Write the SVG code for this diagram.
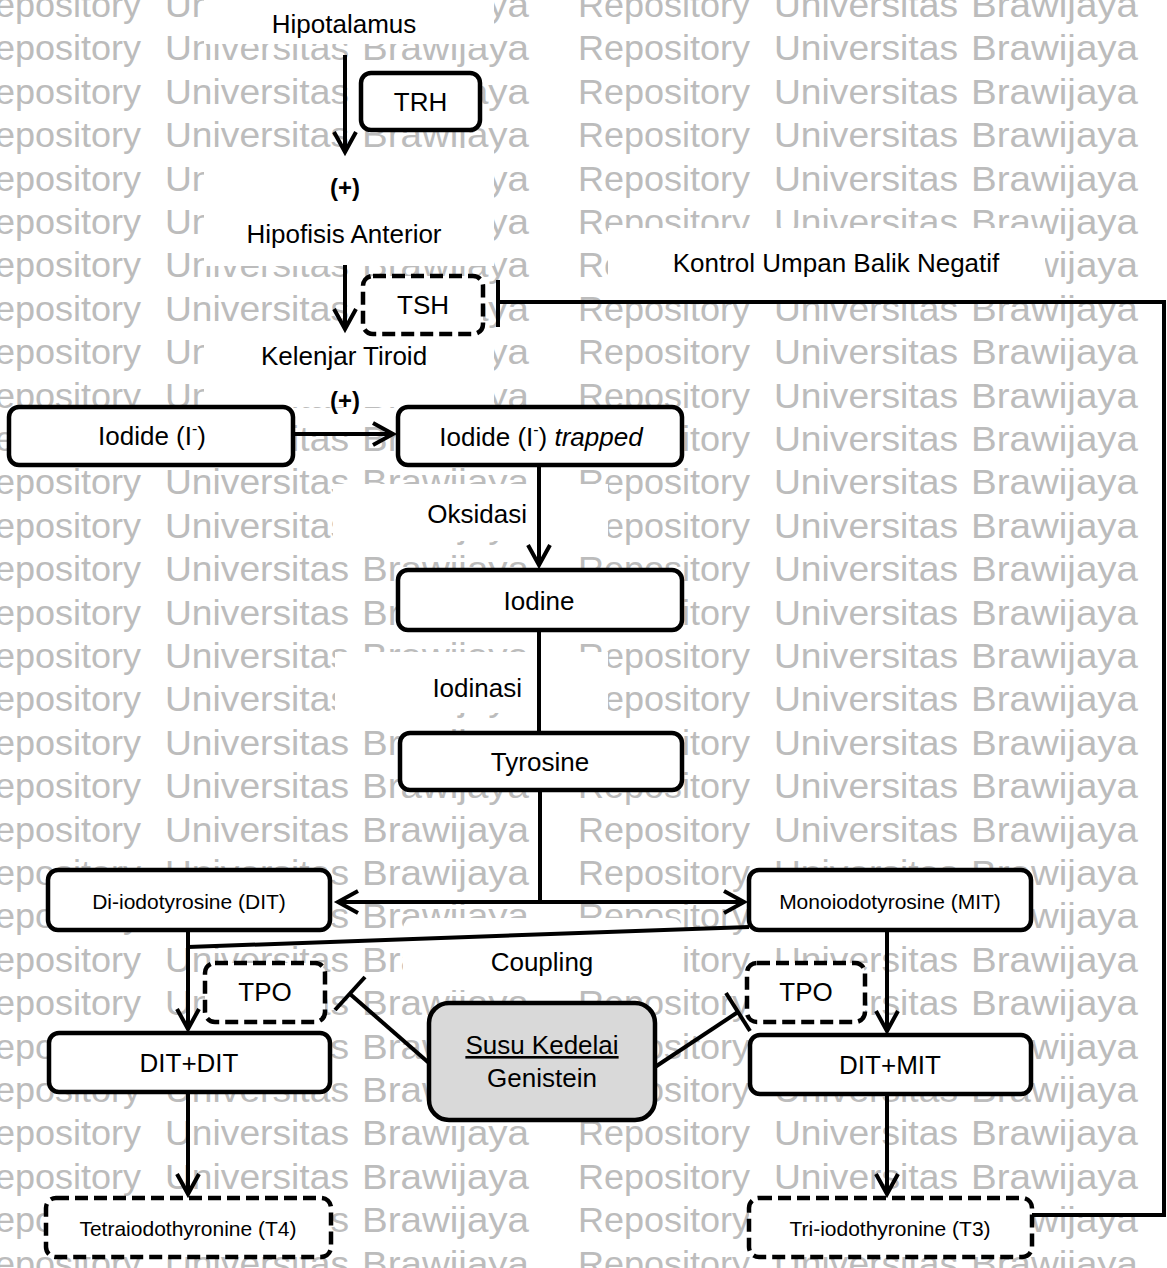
<svg xmlns="http://www.w3.org/2000/svg" xmlns:xlink="http://www.w3.org/1999/xlink" width="1167" height="1268" viewBox="0 0 1167 1268">
  <style>
    text { font-family: "Liberation Sans", Arial, sans-serif; fill: #000; }
    .wm text { font-size: 35px; fill: #bcbcbc; }
    .lbl { font-size: 26px; text-anchor: middle; }
    .sm { font-size: 21px; text-anchor: middle; }
    .plus { font-size: 24px; font-weight: bold; text-anchor: middle; }
    .box { fill: #fff; stroke: #000; stroke-width: 4.5; }
    .dash { fill: #fff; stroke: #000; stroke-width: 4.5; stroke-dasharray: 13 6; }
    .soy { fill: #d9d9d9; stroke: #000; stroke-width: 4.5; }
    .cover { fill: #fff; }
    .ln { fill: none; stroke: #000; stroke-width: 4; }
    .arr { fill: none; stroke: #000; stroke-width: 4; marker-end: url(#head); }
  </style>
  <defs>
    <marker id="head" markerUnits="userSpaceOnUse" orient="auto" overflow="visible" markerWidth="1" markerHeight="1" refX="0" refY="0">
      <path d="M-20,-11 L0,0 L-20,11" fill="none" stroke="#000" stroke-width="4"/>
    </marker>
    <!-- one line of the background watermark, baseline at y=0 -->
    <g id="wmrow" class="wm">
      <text x="-31" textLength="172" lengthAdjust="spacingAndGlyphs">Repository</text>
      <text x="165" textLength="184" lengthAdjust="spacingAndGlyphs">Universitas</text>
      <text x="362" textLength="167" lengthAdjust="spacingAndGlyphs">Brawijaya</text>
      <text x="578" textLength="172" lengthAdjust="spacingAndGlyphs">Repository</text>
      <text x="774" textLength="184" lengthAdjust="spacingAndGlyphs">Universitas</text>
      <text x="971" textLength="167" lengthAdjust="spacingAndGlyphs">Brawijaya</text>
    </g>
  </defs>

  <rect width="1167" height="1268" fill="#fff"/>

  <!-- watermark rows -->
  <g id="watermark">
    <use href="#wmrow" y="17"/>
    <use href="#wmrow" y="60.4"/>
    <use href="#wmrow" y="103.8"/>
    <use href="#wmrow" y="147.2"/>
    <use href="#wmrow" y="190.6"/>
    <use href="#wmrow" y="234"/>
    <use href="#wmrow" y="277.4"/>
    <use href="#wmrow" y="320.8"/>
    <use href="#wmrow" y="364.2"/>
    <use href="#wmrow" y="407.6"/>
    <use href="#wmrow" y="451"/>
    <use href="#wmrow" y="494.4"/>
    <use href="#wmrow" y="537.8"/>
    <use href="#wmrow" y="581.2"/>
    <use href="#wmrow" y="624.6"/>
    <use href="#wmrow" y="668"/>
    <use href="#wmrow" y="711.4"/>
    <use href="#wmrow" y="754.8"/>
    <use href="#wmrow" y="798.2"/>
    <use href="#wmrow" y="841.6"/>
    <use href="#wmrow" y="885"/>
    <use href="#wmrow" y="928.4"/>
    <use href="#wmrow" y="971.8"/>
    <use href="#wmrow" y="1015.2"/>
    <use href="#wmrow" y="1058.6"/>
    <use href="#wmrow" y="1102"/>
    <use href="#wmrow" y="1145.4"/>
    <use href="#wmrow" y="1188.8"/>
    <use href="#wmrow" y="1232.2"/>
    <use href="#wmrow" y="1275.6"/>
  </g>

  <!-- white text frames behind the free labels -->
  <g id="label-frames">
    <rect class="cover" x="204" y="0" width="290" height="44"/>
    <rect class="cover" x="204" y="148" width="290" height="118"/>
    <rect class="cover" x="204" y="332" width="290" height="75"/>
    <rect class="cover" x="608" y="228" width="437" height="72"/>
    <rect class="cover" x="333" y="484" width="275" height="57"/>
    <rect class="cover" x="335" y="652" width="273" height="61"/>
    <rect class="cover" x="403" y="918" width="279" height="72" rx="10"/>
  </g>

  <!-- connectors -->
  <g id="connectors">
    <path class="arr" d="M345,55 V152"/>
    <path class="arr" d="M345,265 V329"/>
    <path class="ln" d="M1031,1215 H1164 V302 H498"/>
    <path class="ln" d="M498,280 V327"/>
    <path class="arr" d="M293,434 H393"/>
    <path class="arr" d="M539,465 V565"/>
    <path class="ln" d="M539,630 V733"/>
    <path class="ln" d="M540,790 V902"/>
    <path class="arr" d="M540,902 H338"/>
    <path class="arr" d="M540,902 H744"/>
    <path class="ln" d="M188,947 L749,927"/>
    <path class="arr" d="M188,930 V1029"/>
    <path class="arr" d="M188,1092 V1194"/>
    <path class="arr" d="M887,930 V1031"/>
    <path class="arr" d="M887,1094 V1194"/>
    <path class="ln" d="M429,1063 L350,994"/>
    <path class="ln" d="M335,1010 L365,977"/>
    <path class="ln" d="M655,1067 L738,1012"/>
    <path class="ln" d="M726,993 L750,1031"/>
  </g>

  <!-- free labels -->
  <g id="labels">
    <text class="lbl" x="344" y="33">Hipotalamus</text>
    <text class="plus" x="345" y="196">(+)</text>
    <text class="lbl" x="344" y="243">Hipofisis Anterior</text>
    <text class="lbl" x="344" y="365">Kelenjar Tiroid</text>
    <text class="plus" x="345" y="409">(+)</text>
    <text class="lbl" x="836" y="272">Kontrol Umpan Balik Negatif</text>
    <text class="lbl" x="527" y="523" style="text-anchor:end">Oksidasi</text>
    <text class="lbl" x="522" y="697" style="text-anchor:end">Iodinasi</text>
    <text class="lbl" x="542" y="971">Coupling</text>
  </g>

  <!-- nodes -->
  <g id="trh">
    <rect class="box" x="361" y="73" width="119" height="57" rx="10"/>
    <text class="lbl" x="420.5" y="111">TRH</text>
  </g>
  <g id="tsh">
    <rect class="dash" x="363" y="276" width="120" height="58" rx="10"/>
    <text class="lbl" x="423" y="314">TSH</text>
  </g>
  <g id="iodide">
    <rect class="box" x="9" y="407" width="284" height="58" rx="10"/>
    <text class="lbl" x="152" y="445">Iodide (I<tspan font-size="16" dy="-11">-</tspan><tspan dy="11">)</tspan></text>
  </g>
  <g id="iodide-trapped">
    <rect class="box" x="398" y="407" width="284" height="58" rx="10"/>
    <text class="lbl" x="541" y="446">Iodide (I<tspan font-size="16" dy="-11">-</tspan><tspan dy="11">) </tspan><tspan font-style="italic">trapped</tspan></text>
  </g>
  <g id="iodine">
    <rect class="box" x="398" y="570" width="284" height="60" rx="10"/>
    <text class="lbl" x="539" y="610">Iodine</text>
  </g>
  <g id="tyrosine">
    <rect class="box" x="400" y="733" width="282" height="57" rx="10"/>
    <text class="lbl" x="540" y="771">Tyrosine</text>
  </g>
  <g id="dit">
    <rect class="box" x="48" y="870" width="282" height="60" rx="10"/>
    <text class="sm" x="189" y="909">Di-iodotyrosine (DIT)</text>
  </g>
  <g id="mit">
    <rect class="box" x="749" y="870" width="282" height="60" rx="10"/>
    <text class="sm" x="890" y="909">Monoiodotyrosine (MIT)</text>
  </g>
  <g id="tpo-left">
    <rect class="dash" x="205" y="963" width="120" height="59" rx="10"/>
    <text class="lbl" x="265" y="1001">TPO</text>
  </g>
  <g id="tpo-right">
    <rect class="dash" x="747" y="963" width="118" height="59" rx="10"/>
    <text class="lbl" x="806" y="1001">TPO</text>
  </g>
  <g id="dit-dit">
    <rect class="box" x="49" y="1033" width="281" height="59" rx="10"/>
    <text class="lbl" x="189" y="1072">DIT+DIT</text>
  </g>
  <g id="dit-mit">
    <rect class="box" x="750" y="1035" width="281" height="59" rx="10"/>
    <text class="lbl" x="890" y="1074">DIT+MIT</text>
  </g>
  <g id="soy">
    <rect class="soy" x="429" y="1003" width="226" height="117" rx="20"/>
    <text class="lbl" x="542" y="1054" text-decoration="underline">Susu Kedelai</text>
    <text class="lbl" x="542" y="1087">Genistein</text>
  </g>
  <g id="t4">
    <rect class="dash" x="46" y="1198" width="285" height="59" rx="10"/>
    <text class="sm" x="188" y="1236">Tetraiodothyronine (T4)</text>
  </g>
  <g id="t3">
    <rect class="dash" x="749" y="1198" width="283" height="59" rx="10"/>
    <text class="sm" x="890" y="1236">Tri-iodothyronine (T3)</text>
  </g>
</svg>
